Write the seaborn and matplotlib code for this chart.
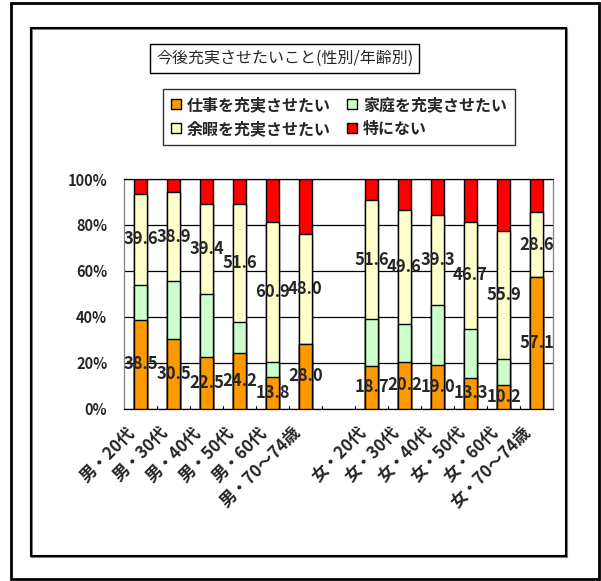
import matplotlib
matplotlib.use("Agg")
import matplotlib.pyplot as plt
import matplotlib.patches as mpatches
import matplotlib.transforms as mtransforms
import seaborn as sns
import pandas as pd
import numpy as np

sns.set_theme(style="white")
plt.rcParams['font.family'] = ['Noto Sans CJK JP', 'DejaVu Sans']

categories = ["男・20代", "男・30代", "男・40代", "男・50代", "男・60代", "男・70～74歳",
              "女・20代", "女・30代", "女・40代", "女・50代", "女・60代", "女・70～74歳"]
work    = [38.5, 30.5, 22.5, 24.2, 13.8, 28.0, 18.7, 20.2, 19.0, 13.3, 10.2, 57.1]
family  = [15.4, 24.9, 27.3, 13.4, 6.4, 0.0, 20.4, 16.8, 25.9, 21.4, 11.3, 0.0]
leisure = [39.6, 38.9, 39.4, 51.6, 60.9, 48.0, 51.6, 49.6, 39.3, 46.7, 55.9, 28.6]
nothing = [6.5, 5.7, 10.8, 10.8, 18.9, 24.0, 9.3, 13.4, 15.8, 18.6, 22.6, 14.3]

series_names = ["仕事を充実させたい", "家庭を充実させたい", "余暇を充実させたい", "特にない"]
colors = ["#FF9900", "#CCFFCC", "#FFFFCC", "#FF0000"]
yticks = [0, 20, 40, 60, 80, 100]

spacer = " "
order = categories[:6] + [spacer] + categories[6:]

df = pd.DataFrame({"cat": categories, "work": work, "family": family,
                   "leisure": leisure, "nothing": nothing})
df["c1"] = df["work"]
df["c2"] = df["c1"] + df["family"]
df["c3"] = df["c2"] + df["leisure"]
df["c4"] = df["c3"] + df["nothing"]

W, H = 601, 581
fig = plt.figure(figsize=(W / 100, H / 100), dpi=100)
fig.patch.set_facecolor("white")

# borders
fig.add_artist(mpatches.Rectangle((11 / W, 1 - 579 / H), 588 / W, 576 / H,
                                  transform=fig.transFigure, fill=False,
                                  edgecolor="black", linewidth=2))
fig.add_artist(mpatches.Rectangle((32 / W, 1 - 557 / H), 535 / W, 528 / H,
                                  transform=fig.transFigure, fill=False,
                                  edgecolor="#808080", linewidth=1.5))
fig.add_artist(mpatches.Rectangle((31 / W, 1 - 556 / H), 535 / W, 528 / H,
                                  transform=fig.transFigure, fill=False,
                                  edgecolor="black", linewidth=1.5))

ax = fig.add_axes([124 / W, 1 - 408.5 / H, (553 - 124) / W, (408.5 - 179) / H])
ax.set_facecolor("white")

for col, c in zip(["c4", "c3", "c2", "c1"], colors[::-1]):
    sns.barplot(data=df, x="cat", y=col, order=order, color=c, width=0.4,
                edgecolor="black", linewidth=1, saturation=1, errorbar=None,
                ax=ax, zorder=3)

ax.set_ylim(0, 100)
ax.set_xlim(-0.5, len(order) - 0.5)
ax.set_yticks(yticks)
ax.set_yticklabels([f"{v}%" for v in yticks], fontsize=10.5, fontweight="bold")
ax.yaxis.grid(True, color="black", linewidth=0.9, zorder=0)
ax.set_axisbelow(True)
ax.set_xlabel("")
ax.set_ylabel("")
for s in ax.spines.values():
    s.set_visible(True)
    s.set_linewidth(0.9)
    s.set_color("black")
ax.spines["left"].set_color("#808080")
ax.spines["right"].set_color("#808080")
ax.tick_params(axis="y", length=0, pad=12)

# x tick labels
ax.set_xticks(range(len(order)))
ax.set_xticklabels(order, rotation=45, ha="right", va="top",
                   rotation_mode="anchor", fontsize=12, fontweight="bold")
ax.tick_params(axis="x", length=0, pad=0)
offset = mtransforms.ScaledTranslation(-14 / 100, -15 / 100, fig.dpi_scale_trans)
for lbl in ax.get_xticklabels():
    lbl.set_transform(lbl.get_transform() + offset)
# boundary ticks
for b in np.arange(0.5, len(order) - 0.5, 1.0):
    ax.plot([b, b], [0, 1.3], color="black", linewidth=0.8, zorder=2)

# value labels
pos = {c: i for i, c in enumerate(order)}
for i, row in df.iterrows():
    x = pos[row["cat"]]
    ax.text(x, row["work"] / 2, f"{row['work']:.1f}", ha="center", va="center",
            fontsize=12, fontweight="bold", zorder=5)
    ax.text(x, row["c2"] + row["leisure"] / 2, f"{row['leisure']:.1f}",
            ha="center", va="center", fontsize=12, fontweight="bold", zorder=5)

# title box
fig.text(156 / W, 1 - 58.5 / H, "今後充実させたいこと(性別/年齢別)", fontsize=11.5,
         ha="left", va="center",
         bbox=dict(boxstyle="square,pad=0.35", facecolor="white", edgecolor="black",
                   linewidth=1))

# legend (row-wise order in two columns)
handles = [mpatches.Patch(facecolor=c, edgecolor="black", linewidth=1) for c in colors]
idx = [0, 2, 1, 3]
leg = fig.legend([handles[i] for i in idx], [series_names[i] for i in idx], ncol=2,
                 loc="upper left",
                 bbox_to_anchor=(163 / W, 1 - 89 / H), frameon=True, fancybox=False,
                 edgecolor="black", prop={"weight": "bold", "size": 11.5},
                 handlelength=0.6, handleheight=0.6, handletextpad=0.4,
                 columnspacing=1.0, labelspacing=0.5, borderpad=0.5,
                 borderaxespad=0)
leg.get_frame().set_linewidth(1)

fig.savefig("out.png", dpi=100, facecolor="white")
